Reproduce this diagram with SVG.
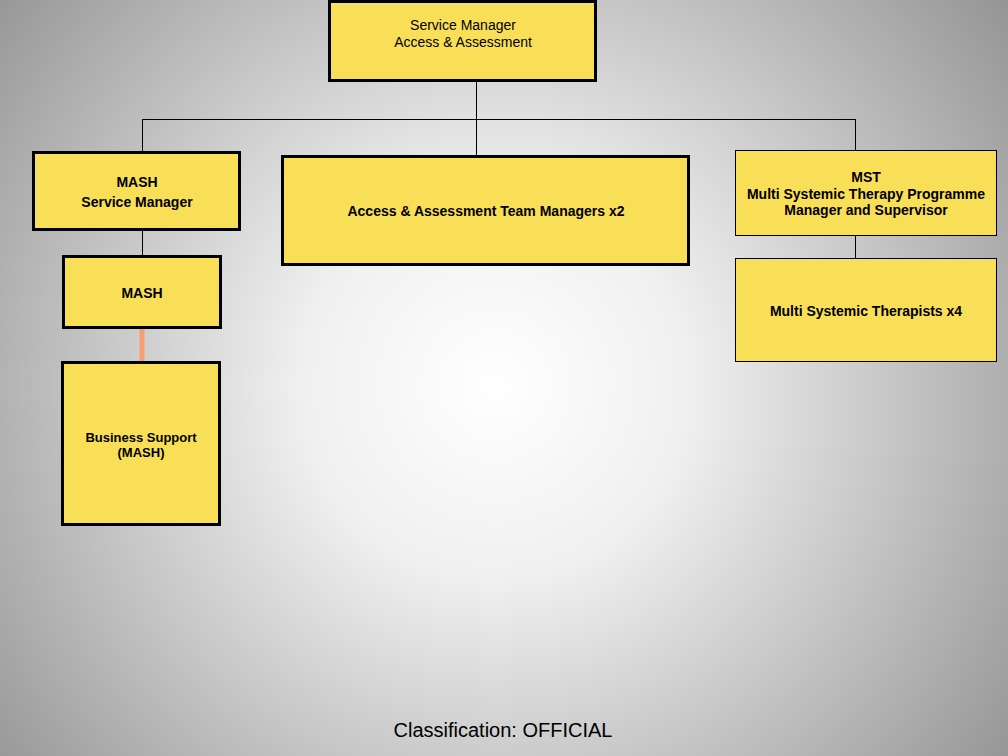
<svg xmlns="http://www.w3.org/2000/svg" width="1008" height="756" viewBox="0 0 1008 756">
<defs>
<radialGradient id="bg" cx="495" cy="385" r="640" gradientUnits="userSpaceOnUse">
<stop offset="0" stop-color="#ffffff"/>
<stop offset="0.3" stop-color="#f0f0f0"/>
<stop offset="1" stop-color="#959595"/>
</radialGradient>
<style>
.box{fill:#f9df57;stroke:#000;stroke-width:3}
.thin{fill:#f9df57;stroke:#000;stroke-width:1}
.t{font-family:"Liberation Sans",Arial,sans-serif;font-size:14px;text-anchor:middle;fill:#000}
.b{font-weight:bold}
.s{font-size:13px}
.ln{stroke:#000;stroke-width:1;fill:none}
</style>
</defs>
<rect x="0" y="0" width="1008" height="756" fill="url(#bg)"/>
<g id="connectors">
<path class="ln" d="M476.5 81V156M142.5 119.5H855.5M142.5 119V152M855.5 119V150M855.5 235V258M142.5 230V256"/>
<line x1="142" y1="328" x2="142" y2="362" stroke="#f4a070" stroke-width="5"/>
</g>
<g id="n-top">
<rect class="box" x="329.5" y="1.5" width="266" height="79"/>
<text class="t" x="463" y="30">Service Manager</text>
<text class="t" x="463" y="47">Access &amp; Assessment</text>
</g>
<g id="n-mash-sm">
<rect class="box" x="33.5" y="152.5" width="206" height="77"/>
<text class="t b" x="137" y="187">MASH</text>
<text class="t b" x="137" y="207">Service Manager</text>
</g>
<g id="n-aa">
<rect class="box" x="282.5" y="156.5" width="406" height="108"/>
<text class="t b" x="486" y="216">Access &amp; Assessment Team Managers x2</text>
</g>
<g id="n-mst">
<rect class="thin" x="735.5" y="150.5" width="261" height="85"/>
<text class="t b" x="866" y="182">MST</text>
<text class="t b" x="866" y="199">Multi Systemic Therapy Programme</text>
<text class="t b" x="866" y="215">Manager and Supervisor</text>
</g>
<g id="n-mst-ther">
<rect class="thin" x="735.5" y="258.5" width="261" height="103"/>
<text class="t b" x="866" y="316">Multi Systemic Therapists x4</text>
</g>
<g id="n-mash">
<rect class="box" x="63.5" y="256.5" width="157" height="71"/>
<text class="t b" x="142" y="298">MASH</text>
</g>
<g id="n-bs">
<rect class="box" x="62.5" y="362.5" width="157" height="162"/>
<text class="t b s" x="141" y="442">Business Support</text>
<text class="t b s" x="141" y="457">(MASH)</text>
</g>
<text x="503" y="737" font-family="'Liberation Sans',Arial,sans-serif" font-size="20" text-anchor="middle" fill="#000">Classification: OFFICIAL</text>
</svg>
